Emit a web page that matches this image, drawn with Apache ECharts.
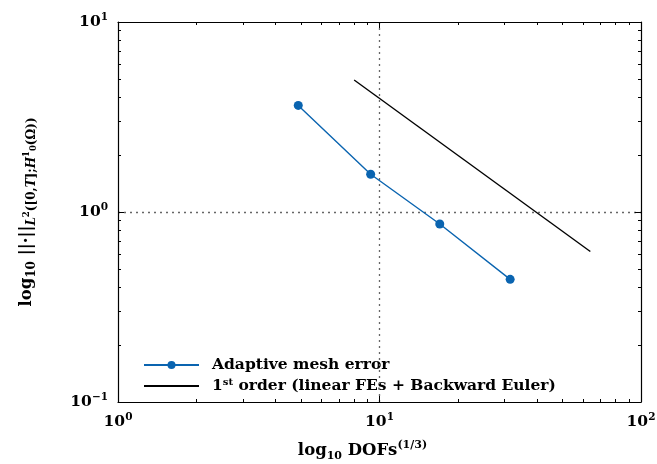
<!DOCTYPE html>
<html>
<head>
<meta charset="utf-8">
<script src="https://cdn.jsdelivr.net/npm/echarts@6/dist/echarts.min.js"></script>
<style>
  html, body { margin: 0; padding: 0; background: #fff; }
  #chart { width: 657px; height: 464px; }
</style>
</head>
<body>
<div id="chart"></div>
<script>
// adaptive mesh results (DOFs^(1/3) vs error)
const dofs = [4.89, 9.25, 17.0, 31.6];
const errors = [3.64, 1.58, 0.865, 0.442];
// first order reference line
const refDofs = [8, 64];
const refErrors = [4.95, 0.62];

const seriesNames = ['Adaptive mesh error', '{b|1}{sup|st}{b| order (linear FEs + Backward Euler)}'];

const FONT = 'DejaVu Serif';
const BLUE = '#0a64b0';

const richLabel = {
  b: { fontFamily: FONT, fontWeight: 'bold', fontSize: 15.5, color: '#000', lineHeight: 20 },
  s: { fontFamily: FONT, fontWeight: 'bold', fontSize: 10.5, color: '#000', verticalAlign: 'top', lineHeight: 12 }
};

// 10^k tick labels
function powLabel(v) {
  const k = Math.round(Math.log10(v));
  return '{b|10}{s|' + String(k).replace('-', '\u2212') + '}';
}

const chart = echarts.init(document.getElementById('chart'));

const tickStyle = { color: '#000', width: 1 };

function makeAxis(pos, min, max, main) {
  return {
    type: 'log',
    logBase: 10,
    min: min,
    max: max,
    position: pos,
    z: 3,
    axisLine: { show: true, lineStyle: { color: '#000', width: 1.2 } },
    axisTick: { show: true, inside: true, length: 6, lineStyle: tickStyle },
    minorTick: { show: true, splitNumber: 9, length: 3, lineStyle: tickStyle },
    axisLabel: main ? { formatter: powLabel, rich: richLabel, margin: 10 } : { show: false },
    splitLine: main ? {
      show: true, showMinLine: false, showMaxLine: false,
      lineStyle: { type: [2, 4], color: '#666', width: 1.3 }
    } : { show: false },
    minorSplitLine: { show: false }
  };
}

const xMain = makeAxis('bottom', 1, 100, true);
xMain.name = '{b|log}{sub|10}{b| DOFs}{sup|(1/3)}';
xMain.nameLocation = 'middle';
xMain.nameGap = 38;
xMain.nameTextStyle = {
  padding: [0, 34, 0, 0],
  rich: {
    b: { fontFamily: FONT, fontWeight: 'bold', fontSize: 16.5, color: '#000', lineHeight: 22 },
    sub: { fontFamily: FONT, fontWeight: 'bold', fontSize: 11, color: '#000', verticalAlign: 'bottom', lineHeight: 12 },
    sup: { fontFamily: FONT, fontWeight: 'bold', fontSize: 11, color: '#000', verticalAlign: 'top', lineHeight: 12 }
  }
};

const yMain = makeAxis('left', 0.1, 10, true);
yMain.name = '{b|log}{sub|10}{b| ||\u00b7||}{si|L}{ssup|2}{sub|([0,}{si|T}{sub|];}{si|H}{ssup|1}{ssub|0}{sub|(\u03a9))}';
yMain.nameLocation = 'middle';
yMain.nameGap = 80;
yMain.nameRotate = 90;
yMain.nameTextStyle = {
  rich: {
    b: { fontFamily: FONT, fontWeight: 'bold', fontSize: 16.5, color: '#000', lineHeight: 22 },
    sub: { fontFamily: FONT, fontWeight: 'bold', fontSize: 12, color: '#000', verticalAlign: 'bottom', lineHeight: 16 },
    si: { fontFamily: FONT, fontWeight: 'bold', fontStyle: 'italic', fontSize: 12, color: '#000', verticalAlign: 'bottom', lineHeight: 16 },
    ssup: { fontFamily: FONT, fontWeight: 'bold', fontSize: 8.5, color: '#000', verticalAlign: 'top', padding: [6, 0, 0, 0] },
    ssub: { fontFamily: FONT, fontWeight: 'bold', fontSize: 8.5, color: '#000', verticalAlign: 'bottom', lineHeight: 7 }
  }
};

const option = {
  animation: false,
  backgroundColor: '#fff',
  grid: { left: 118, right: 16, top: 22, bottom: 62, containLabel: false, outerBoundsMode: 'none' },
  xAxis: [xMain, makeAxis('top', 1, 100, false)],
  yAxis: [yMain, makeAxis('right', 0.1, 10, false)],
  legend: {
    orient: 'vertical',
    left: 133,
    top: 353,
    z: 1,
    padding: [4, 10, 0, 10],
    itemGap: 4,
    itemWidth: 55,
    itemHeight: 10,
    backgroundColor: '#fff',
    data: [
      { name: seriesNames[0] },
      { name: seriesNames[1], itemStyle: { opacity: 0 } }
    ],
    textStyle: {
      fontFamily: FONT, fontWeight: 'bold', fontSize: 15.5, color: '#000', padding: [0, 0, 0, 8],
      rich: {
        b: { fontFamily: FONT, fontWeight: 'bold', fontSize: 15.5, color: '#000', lineHeight: 18 },
        sup: { fontFamily: FONT, fontWeight: 'bold', fontSize: 10, color: '#000', verticalAlign: 'top', lineHeight: 10 }
      }
    }
  },
  series: [
    {
      name: seriesNames[0],
      type: 'line',
      xAxisIndex: 0,
      yAxisIndex: 0,
      data: dofs.map((d, i) => [d, errors[i]]),
      symbol: 'circle',
      symbolSize: 9,
      itemStyle: { color: BLUE },
      lineStyle: { color: BLUE, width: 1.4 },
      z: 5
    },
    {
      name: seriesNames[1],
      type: 'line',
      xAxisIndex: 0,
      yAxisIndex: 0,
      data: refDofs.map((d, i) => [d, refErrors[i]]),
      symbol: 'none',
      itemStyle: { color: '#000' },
      lineStyle: { color: '#000', width: 1.4 },
      z: 4
    }
  ]
};

chart.setOption(option);
</script>
</body>
</html>
